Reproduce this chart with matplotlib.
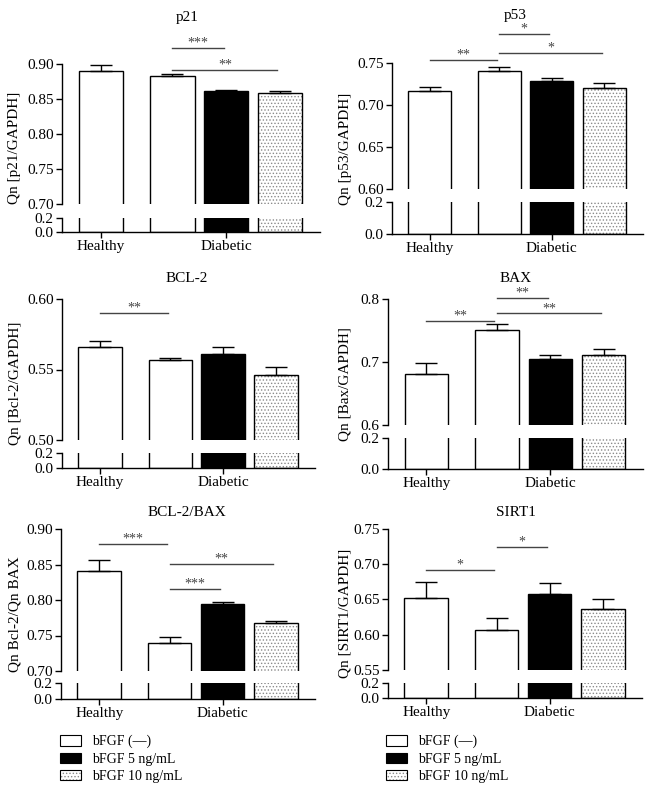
import numpy as np
import matplotlib
matplotlib.use('Agg')
import matplotlib.pyplot as plt
from matplotlib.patches import Patch
from matplotlib.legend_handler import HandlerTuple

plt.rcParams['font.family'] = ['Liberation Serif', 'DejaVu Serif']
plt.rcParams['hatch.linewidth'] = 0.6

W, H = 651, 792

groups = ['Healthy', 'Diabetic']
legend_labels = ['bFGF (—)', 'bFGF 5 ng/mL', 'bFGF 10 ng/mL']

# means and upper errors: Healthy, Diabetic bFGF(-), 5 ng/mL, 10 ng/mL
p21_mean = [0.890, 0.883, 0.862, 0.858]
p21_err = [0.009, 0.003, 0.001, 0.004]
p21_sig = [(1, 2, 0.923, '***'), (1, 3, 0.891, '**')]

p53_mean = [0.717, 0.7405, 0.728, 0.720]
p53_err = [0.005, 0.005, 0.0045, 0.006]
p53_sig = [(0, 1, 0.7536, '**'), (1, 2, 0.785, '*'), (1, 3, 0.762, '*')]

bcl2_mean = [0.5657, 0.5567, 0.5608, 0.5459]
bcl2_err = [0.0043, 0.0017, 0.0049, 0.0057]
bcl2_sig = [(0, 1, 0.5898, '**')]

bax_mean = [0.6815, 0.7513, 0.7053, 0.7116]
bax_err = [0.0175, 0.0087, 0.0057, 0.0094]
bax_sig = [(0, 1, 0.7656, '**'), (1, 2, 0.8016, '**'), (1, 3, 0.777, '**')]

ratio_mean = [0.841, 0.740, 0.7948, 0.768]
ratio_err = [0.015, 0.008, 0.0025, 0.003]
ratio_sig = [(0, 1, 0.879, '***'), (1, 3, 0.851, '**'), (1, 2, 0.815, '***')]

sirt1_mean = [0.652, 0.6063, 0.658, 0.636]
sirt1_err = [0.0226, 0.0177, 0.016, 0.014]
sirt1_sig = [(0, 1, 0.6917, '*'), (1, 2, 0.725, '*')]

xpos = np.array([0, 1.33, 2.33, 3.33])
width = 0.82
fs = 11


def rect(l, t, r, b):
    return [l / W, 1 - b / H, (r - l) / W, (b - t) / H]


def draw_bars(ax, means):
    ax.bar(xpos[:2], means[:2], width, color='white', edgecolor='black', lw=1)
    ax.bar(xpos[2], means[2], width, color='black', edgecolor='black', lw=1)
    ax.bar(xpos[3], means[3], width, color='white', edgecolor='#8a8a8a',
           hatch='.....', lw=0)
    ax.bar(xpos[3], means[3], width, fill=False, edgecolor='black', lw=1)


def style(ax):
    for s in ['top', 'right']:
        ax.spines[s].set_visible(False)
    for s in ['left', 'bottom']:
        ax.spines[s].set_linewidth(1)
    ax.tick_params(direction='out', length=4, width=1, labelsize=fs, pad=2)
    ax.set_xlim(-0.72, 4.07)


def panel(box_up, box_lo, means, errs, ylim, yticks, fmt, sig, title, title_xy,
          ylabel, ylabel_x):
    l, t, r, b = box_up
    ax = fig.add_axes(rect(l, t, r, b))
    l2, t2, r2, b2 = box_lo
    ax2 = fig.add_axes(rect(l2, t2, r2, b2))
    for a in (ax, ax2):
        draw_bars(a, means)
        style(a)
    ax.errorbar(xpos, means, yerr=[np.zeros(4), errs], fmt='none',
                ecolor='black', elinewidth=1, capsize=8, capthick=1)
    ax.set_ylim(*ylim)
    ax.set_yticks(yticks)
    ax.set_yticklabels([fmt % v for v in yticks])
    ax.spines['bottom'].set_visible(False)
    ax.set_xticks([])
    ax2.set_ylim(0, 0.2)
    ax2.set_yticks([0.0, 0.2])
    ax2.set_yticklabels(['0.0', '0.2'])
    ax2.set_xticks([xpos[0], xpos[2]])
    ax2.set_xticklabels(groups, fontsize=fs)

    for i, j, y, stars in sig:
        x1, x2 = xpos[i], xpos[j] - 0.05
        ax.plot([x1, x2], [y, y], color='#444444', lw=1, clip_on=False)
        ax.annotate(stars, ((x1 + x2) / 2, y), xytext=(0, 1),
                    textcoords='offset points', ha='center', va='baseline',
                    fontsize=10, color='#444444', annotation_clip=False)

    fig.text(title_xy[0] / W, 1 - title_xy[1] / H, title, ha='center',
             va='center', fontsize=fs)
    fig.text(ylabel_x / W, 1 - (t + b2) / 2 / H, ylabel, rotation=90,
             ha='center', va='center', fontsize=fs)


fig = plt.figure(figsize=(W / 100, H / 100), dpi=100)

panel((62, 64, 320, 204), (62, 218, 320, 232), p21_mean, p21_err,
      (0.70, 0.90), [0.70, 0.75, 0.80, 0.85, 0.90], '%.2f', p21_sig,
      'p21', (187, 17), 'Qn [p21/GAPDH]', 15)
panel((392, 63, 643, 189), (392, 202, 643, 234), p53_mean, p53_err,
      (0.60, 0.75), [0.60, 0.65, 0.70, 0.75], '%.2f', p53_sig,
      'p53', (515, 15), 'Qn [p53/GAPDH]', 345)
panel((62, 299, 315, 440), (62, 453, 315, 468), bcl2_mean, bcl2_err,
      (0.50, 0.60), [0.50, 0.55, 0.60], '%.2f', bcl2_sig,
      'BCL-2', (187, 278), 'Qn [Bcl-2/GAPDH]', 15)
panel((388, 299, 643, 425), (388, 438, 643, 469), bax_mean, bax_err,
      (0.6, 0.8), [0.6, 0.7, 0.8], '%.1f', bax_sig,
      'BAX', (516, 278), 'Qn [Bax/GAPDH]', 345)
panel((61, 529, 315, 671), (61, 683, 315, 699), ratio_mean, ratio_err,
      (0.70, 0.90), [0.70, 0.75, 0.80, 0.85, 0.90], '%.2f', ratio_sig,
      'BCL-2/BAX', (187, 512), 'Qn Bcl-2/Qn BAX', 15)
panel((388, 529, 642, 670), (388, 683, 642, 698), sirt1_mean, sirt1_err,
      (0.55, 0.75), [0.55, 0.60, 0.65, 0.70, 0.75], '%.2f', sirt1_sig,
      'SIRT1', (516, 512), 'Qn [SIRT1/GAPDH]', 345)

# legends
h_white = Patch(facecolor='white', edgecolor='black', lw=0.8)
h_black = Patch(facecolor='black', edgecolor='black', lw=0.8)
h_dot = (Patch(facecolor='white', edgecolor='#8a8a8a', hatch='.....', lw=0),
         Patch(fill=False, edgecolor='black', lw=0.8))
for lx in (60, 386):
    fig.legend([h_white, h_black, h_dot], legend_labels,
               handler_map={tuple: HandlerTuple(ndivide=1, pad=0)},
               loc='upper left', bbox_to_anchor=(lx / W, 1 - 735 / H),
               frameon=False, fontsize=10, borderaxespad=0, borderpad=0,
               handlelength=1.5, handleheight=0.75, labelspacing=0.3,
               handletextpad=0.8)

fig.savefig('out.png', dpi=100)
